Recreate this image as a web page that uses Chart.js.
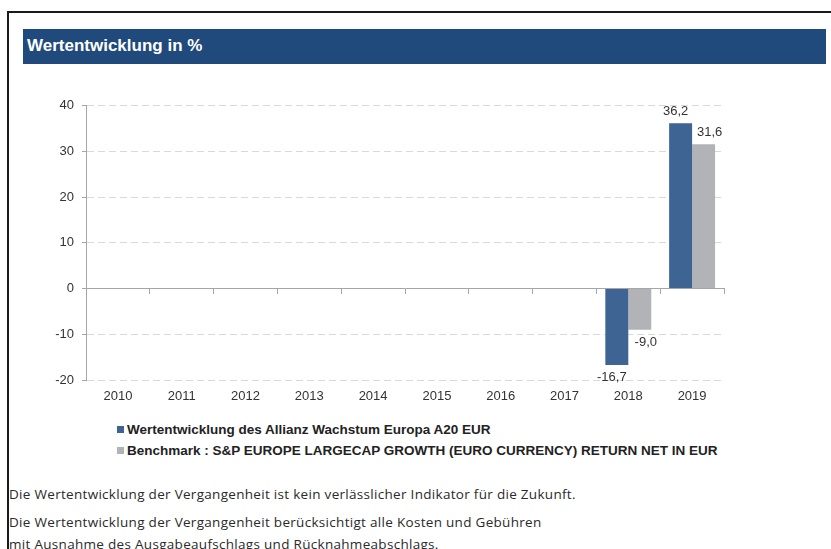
<!DOCTYPE html>
<html>
<head>
<meta charset="utf-8">
<script src="https://cdn.jsdelivr.net/npm/chart.js@4.4.0/dist/chart.umd.min.js"></script>
<style>
  body { margin: 0; width: 831px; height: 549px; overflow: hidden; background: #fff; position: relative; font-family: Arial, "Liberation Sans", sans-serif; }
  .frameTop { position: absolute; left: 7px; top: 11px; width: 824px; height: 2px; background: #1a1a1a; }
  .frameLeft { position: absolute; left: 7px; top: 11px; width: 2px; height: 538px; background: #1a1a1a; }
  .header { position: absolute; left: 23px; top: 29px; width: 803px; height: 35px; background: #204a7b; }
  .header span { position: absolute; left: 4px; top: 7px; color: #fff; font-weight: bold; font-size: 17px; }
  #chartBox { position: absolute; left: 0; top: 90px; }
  #legend { position: absolute; left: 117px; top: 420px; }
  .legItem { height: 24px; display: flex; align-items: center; font-weight: bold; font-size: 13.5px; color: #222; white-space: nowrap; margin-top: -3px; }
  .legItem i { display: inline-block; width: 7px; height: 7px; margin-right: 3px; }
  .note { position: absolute; left: 9px; font-family: "Open Sans", Lato, sans-serif; font-weight: 400; font-size: 13.5px; letter-spacing: 0.3px; color: #2a2a2a; white-space: nowrap; line-height: 22px; }
</style>
</head>
<body>
<div class="frameTop"></div>
<div class="frameLeft"></div>
<div class="header"><span>Wertentwicklung in %</span></div>
<canvas id="chartBox" width="760" height="320"></canvas>
<div id="legend"></div>
<div class="note" style="top:483px">Die Wertentwicklung der Vergangenheit ist kein verlässlicher Indikator für die Zukunft.</div>
<div class="note" style="top:511px">Die Wertentwicklung der Vergangenheit berücksichtigt alle Kosten und Gebühren<br>mit Ausnahme des Ausgabeaufschlags und Rücknahmeabschlags.</div>
<script>
// Data
const years = ['2010', '2011', '2012', '2013', '2014', '2015', '2016', '2017', '2018', '2019'];
const fundReturns = [null, null, null, null, null, null, null, null, -16.7, 36.2];
const benchmarkReturns = [null, null, null, null, null, null, null, null, -9.0, 31.6];
const yTicks = [-20, -10, 0, 10, 20, 30, 40];

const fundLabel = 'Wertentwicklung des Allianz Wachstum Europa A20 EUR';
const benchLabel = 'Benchmark : S&P EUROPE LARGECAP GROWTH (EURO CURRENCY) RETURN NET IN EUR';

const axisGray = '#a6a6a6';
const textColor = '#333333';

// value labels next to each bar, german decimal comma
const valueLabels = {
    id: 'valueLabels',
    afterDatasetsDraw(chart) {
        const ctx = chart.ctx;
        ctx.save();
        ctx.font = '13px Arial, "Liberation Sans", sans-serif';
        ctx.fillStyle = textColor;
        ctx.textAlign = 'center';
        chart.data.datasets.forEach(function(ds, di) {
            const meta = chart.getDatasetMeta(di);
            meta.data.forEach(function(bar, i) {
                const v = ds.data[i];
                if (v === null) return;
                const txt = v.toFixed(1).replace('.', ',');
                const shift = di === 0 ? -5 : 6;
                if (v >= 0) {
                    ctx.textBaseline = 'bottom';
                    ctx.fillText(txt, bar.x + shift, bar.y - 5);
                } else {
                    ctx.textBaseline = 'top';
                    ctx.fillText(txt, bar.x + shift, bar.y + 6);
                }
            });
        });
        ctx.restore();
    }
};

const ctxPerf = document.getElementById('chartBox').getContext('2d');
const perfChart = new Chart(ctxPerf, {
    type: 'bar',
    data: {
        labels: years,
        datasets: [
            {
                label: fundLabel,
                data: fundReturns,
                backgroundColor: '#3e6494',
                categoryPercentage: 0.72,
                barPercentage: 1.0,
            },
            {
                label: benchLabel,
                data: benchmarkReturns,
                backgroundColor: '#b2b3b7',
                categoryPercentage: 0.72,
                barPercentage: 1.0,
            }
        ]
    },
    options: {
        responsive: false,
        animation: false,
        events: [],
        layout: { padding: { top: 15, left: 0, right: 36, bottom: 0 } },
        plugins: {
            legend: { display: false },
            tooltip: { enabled: false }
        },
        scales: {
            x: {
                position: 'bottom',
                grid: { display: false, drawTicks: false },
                border: { display: false },
                ticks: { color: textColor, font: { family: 'Arial', size: 13 }, padding: 9, maxRotation: 0 },
                afterFit(scale) { scale.height = 30; }
            },
            xZero: {
                type: 'category',
                position: { y: 0 },
                offset: true,
                grid: { display: true, drawOnChartArea: false, drawTicks: true, tickLength: 5, color: axisGray, tickColor: axisGray, offset: true },
                border: { display: true, color: axisGray, width: 1 },
                ticks: { display: false }
            },
            y: {
                min: -20,
                max: 40,
                afterBuildTicks(scale) { scale.ticks = yTicks.map(v => ({ value: v })); },
                grid: { color: '#d9d9d9', tickColor: axisGray, tickLength: 4, tickBorderDash: [] },
                border: { display: true, color: axisGray, dash: [7, 4] },
                ticks: { color: textColor, font: { family: 'Arial', size: 13 }, padding: 8, callback: v => String(v) },
                afterFit(scale) { scale.width = 86; }
            }
        }
    },
    plugins: [valueLabels]
});

// legend built from the datasets
const legendBox = document.getElementById('legend');
perfChart.data.datasets.forEach(function(ds) {
    const row = document.createElement('div');
    row.className = 'legItem';
    const sq = document.createElement('i');
    sq.style.background = ds.backgroundColor;
    row.appendChild(sq);
    row.appendChild(document.createTextNode(ds.label));
    legendBox.appendChild(row);
});
</script>
</body>
</html>
